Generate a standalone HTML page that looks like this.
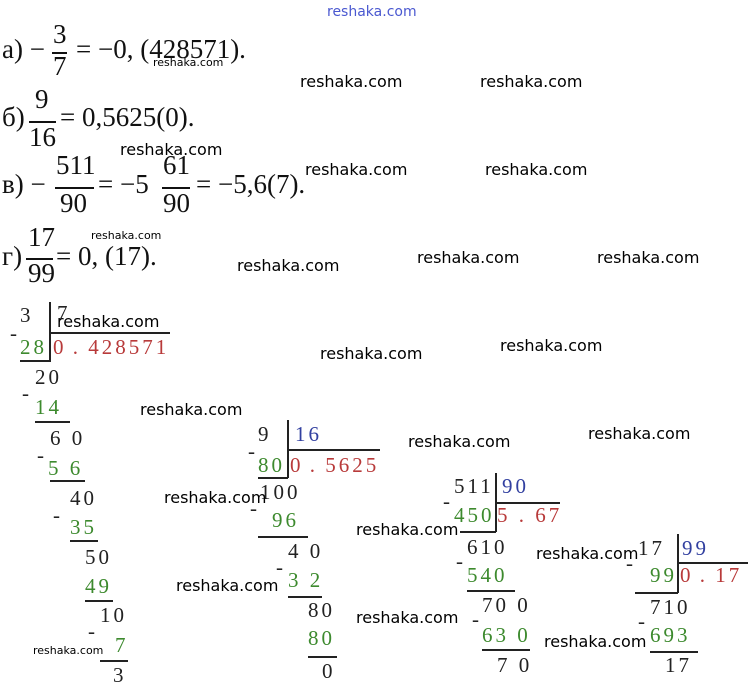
<!DOCTYPE html>
<html><head><meta charset="utf-8"><style>
body{margin:0;width:748px;height:692px;background:#fff;position:relative;overflow:hidden}
.t{position:absolute;font-family:"Liberation Serif",serif;font-size:27px;line-height:27px;color:#111;white-space:pre}
.w{position:absolute;font-family:"DejaVu Sans","Liberation Sans",sans-serif;font-size:16px;line-height:18px;color:#000;white-space:pre;font-weight:500}
.s{font-size:11px;line-height:12px}
.d{position:absolute;font-family:"Liberation Serif",serif;font-size:21px;line-height:22px;letter-spacing:3px;color:#222;white-space:pre}
.g{color:#3d8a2e}.r{color:#b83a3a}.b{color:#3240a0}
.h{position:absolute;height:2px;background:#222}
.v{position:absolute;width:2px;background:#222}
.bar{position:absolute;height:1.5px;background:#111}
</style></head><body>
<div class="w" style="left:327px;top:3px;color:#4a58d0;font-size:14px">reshaka.com</div>

<div class="t" style="left:2px;top:36px">а) −</div>
<div class="t" style="left:53px;top:21px">3</div><div class="bar" style="left:52px;top:52px;width:15px"></div>
<div class="t" style="left:53px;top:53px">7</div>
<div class="t" style="left:76px;top:36px">= −0, (428571).</div>

<div class="t" style="left:2px;top:104px">б)</div>
<div class="t" style="left:35px;top:86px">9</div><div class="bar" style="left:29px;top:121px;width:27px"></div>
<div class="t" style="left:29px;top:124px">16</div>
<div class="t" style="left:60px;top:104px">= 0,5625(0).</div>

<div class="t" style="left:2px;top:171px">в) −</div>
<div class="t" style="left:56px;top:152px">511</div><div class="bar" style="left:55px;top:187px;width:39px"></div>
<div class="t" style="left:60px;top:190px">90</div>
<div class="t" style="left:98px;top:171px">= −5</div>
<div class="t" style="left:163px;top:152px">61</div><div class="bar" style="left:162px;top:187px;width:28px"></div>
<div class="t" style="left:163px;top:190px">90</div>
<div class="t" style="left:196px;top:171px">= −5,6(7).</div>

<div class="t" style="left:2px;top:243px">г)</div>
<div class="t" style="left:28px;top:224px">17</div><div class="bar" style="left:26px;top:258px;width:27px"></div>
<div class="t" style="left:28px;top:260px">99</div>
<div class="t" style="left:56px;top:243px">= 0, (17).</div>

<!-- division 1 -->
<div class="d" style="left:20px;top:304px">3</div><div class="d" style="left:57px;top:302px">7</div>
<div class="v" style="left:49px;top:302px;height:60px"></div><div class="h" style="left:50px;top:332px;width:120px"></div>
<div class="d" style="left:10px;top:322px">-</div>
<div class="d g" style="left:20px;top:336px">28</div><div class="d r" style="left:53px;top:336px;letter-spacing:2px">0 .<span style="letter-spacing:3px"> 428571</span></div>
<div class="h" style="left:20px;top:360px;width:30px"></div>
<div class="d" style="left:35px;top:366px">20</div><div class="d" style="left:22px;top:382px">-</div>
<div class="d g" style="left:35px;top:396px">14</div><div class="h" style="left:35px;top:421px;width:35px"></div>
<div class="d" style="left:50px;top:427px">6 0</div><div class="d" style="left:37px;top:444px">-</div>
<div class="d g" style="left:48px;top:457px">5 6</div><div class="h" style="left:50px;top:480px;width:35px"></div>
<div class="d" style="left:70px;top:487px">40</div><div class="d" style="left:53px;top:504px">-</div>
<div class="d g" style="left:70px;top:516px">35</div><div class="h" style="left:70px;top:540px;width:28px"></div>
<div class="d" style="left:85px;top:546px">50</div>
<div class="d g" style="left:85px;top:575px">49</div><div class="h" style="left:85px;top:600px;width:28px"></div>
<div class="d" style="left:100px;top:604px">10</div><div class="d" style="left:88px;top:620px">-</div>
<div class="d g" style="left:115px;top:634px">7</div><div class="h" style="left:100px;top:660px;width:28px"></div>
<div class="d" style="left:113px;top:664px">3</div>

<!-- division 2 -->
<div class="d" style="left:258px;top:423px">9</div><div class="d b" style="left:295px;top:423px">16</div>
<div class="v" style="left:287px;top:420px;height:58px"></div><div class="h" style="left:288px;top:449px;width:92px"></div>
<div class="d" style="left:248px;top:440px">-</div>
<div class="d g" style="left:258px;top:454px">80</div><div class="d r" style="left:290px;top:454px;letter-spacing:2px">0 .<span style="letter-spacing:3px"> 5625</span></div>
<div class="h" style="left:258px;top:477px;width:30px"></div>
<div class="d" style="left:260px;top:481px">100</div><div class="d" style="left:250px;top:497px">-</div>
<div class="d g" style="left:272px;top:509px">96</div><div class="h" style="left:258px;top:536px;width:50px"></div>
<div class="d" style="left:288px;top:540px">4 0</div><div class="d" style="left:276px;top:556px">-</div>
<div class="d g" style="left:288px;top:569px">3 2</div><div class="h" style="left:288px;top:596px;width:34px"></div>
<div class="d" style="left:308px;top:599px">80</div>
<div class="d g" style="left:308px;top:627px">80</div><div class="h" style="left:308px;top:656px;width:29px"></div>
<div class="d" style="left:322px;top:660px">0</div>

<!-- division 3 -->
<div class="d" style="left:454px;top:475px">511</div><div class="d b" style="left:502px;top:475px">90</div>
<div class="v" style="left:495px;top:473px;height:59px"></div><div class="h" style="left:496px;top:502px;width:64px"></div>
<div class="d" style="left:443px;top:490px">-</div>
<div class="d g" style="left:454px;top:504px">450</div><div class="d r" style="left:497px;top:504px">5 . 67</div>
<div class="h" style="left:460px;top:531px;width:36px"></div>
<div class="d" style="left:467px;top:536px">610</div><div class="d" style="left:456px;top:550px">-</div>
<div class="d g" style="left:467px;top:564px">540</div><div class="h" style="left:467px;top:590px;width:48px"></div>
<div class="d" style="left:482px;top:594px">70 0</div><div class="d" style="left:472px;top:608px">-</div>
<div class="d g" style="left:482px;top:624px">63 0</div><div class="h" style="left:482px;top:649px;width:48px"></div>
<div class="d" style="left:497px;top:654px">7 0</div>

<!-- division 4 -->
<div class="d" style="left:638px;top:537px">17</div><div class="d b" style="left:682px;top:537px">99</div>
<div class="v" style="left:677px;top:534px;height:59px"></div><div class="h" style="left:678px;top:562px;width:70px"></div>
<div class="d" style="left:626px;top:552px">-</div>
<div class="d g" style="left:650px;top:564px">99</div><div class="d r" style="left:680px;top:564px;letter-spacing:2px">0 .<span style="letter-spacing:3px"> 17</span></div>
<div class="h" style="left:635px;top:592px;width:43px"></div>
<div class="d" style="left:650px;top:596px">710</div><div class="d" style="left:638px;top:610px">-</div>
<div class="d g" style="left:650px;top:624px">693</div><div class="h" style="left:650px;top:651px;width:48px"></div>
<div class="d" style="left:665px;top:654px">17</div>

<!-- watermarks -->
<div class="w s" style="left:153px;top:57px">reshaka.com</div>
<div class="w s" style="left:91px;top:230px">reshaka.com</div>
<div class="w s" style="left:33px;top:645px">reshaka.com</div>
<div class="w" style="left:300px;top:73px">reshaka.com</div>
<div class="w" style="left:480px;top:73px">reshaka.com</div>
<div class="w" style="left:120px;top:141px">reshaka.com</div>
<div class="w" style="left:305px;top:161px">reshaka.com</div>
<div class="w" style="left:485px;top:161px">reshaka.com</div>
<div class="w" style="left:237px;top:257px">reshaka.com</div>
<div class="w" style="left:417px;top:249px">reshaka.com</div>
<div class="w" style="left:597px;top:249px">reshaka.com</div>
<div class="w" style="left:57px;top:313px">reshaka.com</div>
<div class="w" style="left:320px;top:345px">reshaka.com</div>
<div class="w" style="left:500px;top:337px">reshaka.com</div>
<div class="w" style="left:140px;top:401px">reshaka.com</div>
<div class="w" style="left:408px;top:433px">reshaka.com</div>
<div class="w" style="left:588px;top:425px">reshaka.com</div>
<div class="w" style="left:164px;top:489px">reshaka.com</div>
<div class="w" style="left:356px;top:521px">reshaka.com</div>
<div class="w" style="left:536px;top:545px">reshaka.com</div>
<div class="w" style="left:176px;top:577px">reshaka.com</div>
<div class="w" style="left:356px;top:609px">reshaka.com</div>
<div class="w" style="left:544px;top:633px">reshaka.com</div>
</body></html>
